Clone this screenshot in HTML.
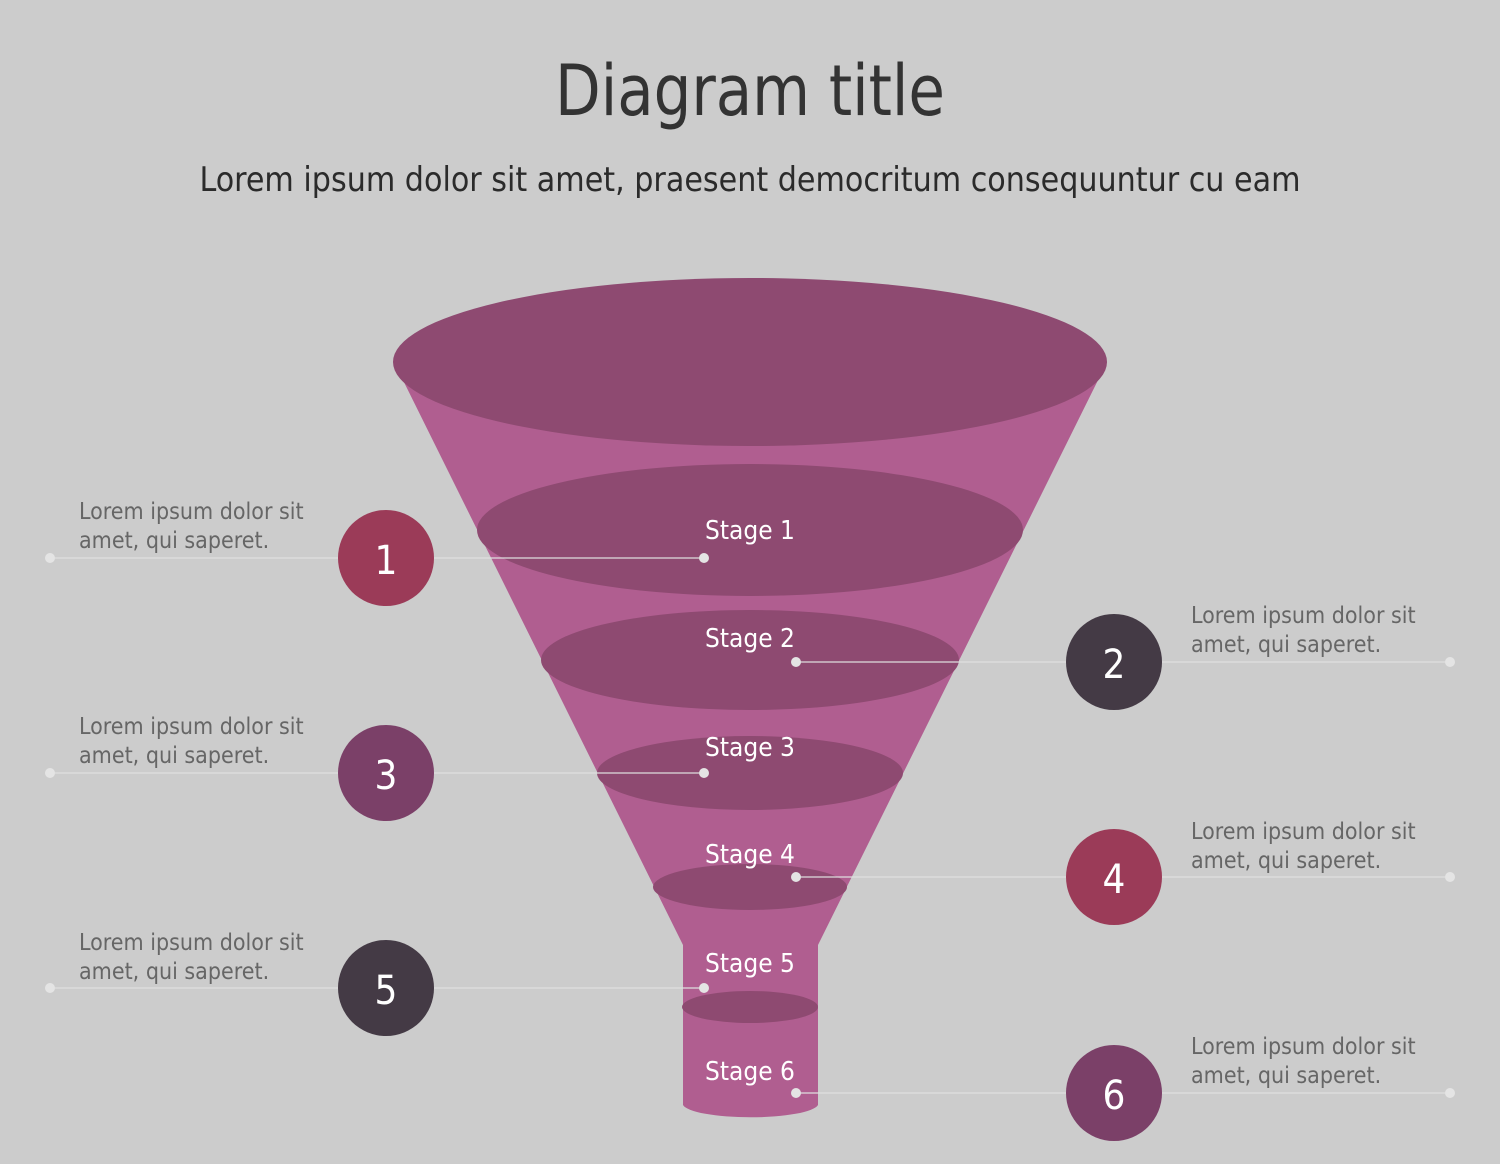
<!DOCTYPE html>
<html><head><meta charset="utf-8"><style>
html,body{margin:0;padding:0;background:#cccccc;}
svg{display:block;font-family:"DejaVu Sans Condensed","DejaVu Sans","Liberation Sans",sans-serif;font-stretch:condensed;}
</style></head><body>
<svg width="1500" height="1164" viewBox="0 0 1500 1164" xmlns="http://www.w3.org/2000/svg">
<rect width="1500" height="1164" fill="#cccccc"/>
<text x="750" y="115" text-anchor="middle" font-size="70" fill="#333" textLength="390" lengthAdjust="spacingAndGlyphs">Diagram title</text>
<text x="750" y="191" text-anchor="middle" font-size="34" fill="#2b2b2b" textLength="1101" lengthAdjust="spacingAndGlyphs">Lorem ipsum dolor sit amet, praesent democritum consequuntur cu eam</text>

<path d="M394,362 L683,945 L683,1105 A68,14 0 0 0 818,1105 L818,945 L1107,362 Z" fill="#b05e90"/>
<ellipse cx="750" cy="362" rx="357" ry="84" fill="#8e4a71"/>
<ellipse cx="750" cy="530" rx="273" ry="66" fill="#8e4a71"/>
<ellipse cx="750" cy="660" rx="209" ry="50" fill="#8e4a71"/>
<ellipse cx="750" cy="773" rx="153" ry="37" fill="#8e4a71"/>
<ellipse cx="750" cy="887" rx="97" ry="23" fill="#8e4a71"/>
<ellipse cx="750" cy="1007" rx="68" ry="16" fill="#8e4a71"/>

<g font-size="26" fill="#fff" text-anchor="middle">
<text x="750" y="539">Stage 1</text>
<text x="750" y="647">Stage 2</text>
<text x="750" y="756">Stage 3</text>
<text x="750" y="863">Stage 4</text>
<text x="750" y="972">Stage 5</text>
<text x="750" y="1080">Stage 6</text>
</g>

<g stroke="#dedede" stroke-width="1.2">
<line x1="50" y1="558" x2="704" y2="558"/>
<line x1="50" y1="773" x2="704" y2="773"/>
<line x1="50" y1="988" x2="704" y2="988"/>
<line x1="796" y1="662" x2="1450" y2="662"/>
<line x1="796" y1="877" x2="1450" y2="877"/>
<line x1="796" y1="1093" x2="1450" y2="1093"/>
</g>
<g fill="#e4e4e4">
<circle cx="50" cy="558" r="5"/><circle cx="704" cy="558" r="5"/>
<circle cx="50" cy="773" r="5"/><circle cx="704" cy="773" r="5"/>
<circle cx="50" cy="988" r="5"/><circle cx="704" cy="988" r="5"/>
<circle cx="796" cy="662" r="5"/><circle cx="1450" cy="662" r="5"/>
<circle cx="796" cy="877" r="5"/><circle cx="1450" cy="877" r="5"/>
<circle cx="796" cy="1093" r="5"/><circle cx="1450" cy="1093" r="5"/>
</g>

<circle cx="386" cy="558" r="48" fill="#9b3b58"/>
<circle cx="386" cy="773" r="48" fill="#7b4068"/>
<circle cx="386" cy="988" r="48" fill="#443a45"/>
<circle cx="1114" cy="662" r="48" fill="#443a45"/>
<circle cx="1114" cy="877" r="48" fill="#9b3b58"/>
<circle cx="1114" cy="1093" r="48" fill="#7b4068"/>
<g font-size="40" fill="#fff" text-anchor="middle">
<text x="386" y="574">1</text>
<text x="386" y="789">3</text>
<text x="386" y="1004">5</text>
<text x="1114" y="678">2</text>
<text x="1114" y="893">4</text>
<text x="1114" y="1109">6</text>
</g>

<g font-size="23" fill="#666">
<text x="79" y="519">Lorem ipsum dolor sit</text><text x="79" y="548">amet, qui saperet.</text>
<text x="79" y="734">Lorem ipsum dolor sit</text><text x="79" y="763">amet, qui saperet.</text>
<text x="79" y="950">Lorem ipsum dolor sit</text><text x="79" y="979">amet, qui saperet.</text>
<text x="1191" y="623">Lorem ipsum dolor sit</text><text x="1191" y="652">amet, qui saperet.</text>
<text x="1191" y="839">Lorem ipsum dolor sit</text><text x="1191" y="868">amet, qui saperet.</text>
<text x="1191" y="1054">Lorem ipsum dolor sit</text><text x="1191" y="1083">amet, qui saperet.</text>
</g>
</svg>
</body></html>
